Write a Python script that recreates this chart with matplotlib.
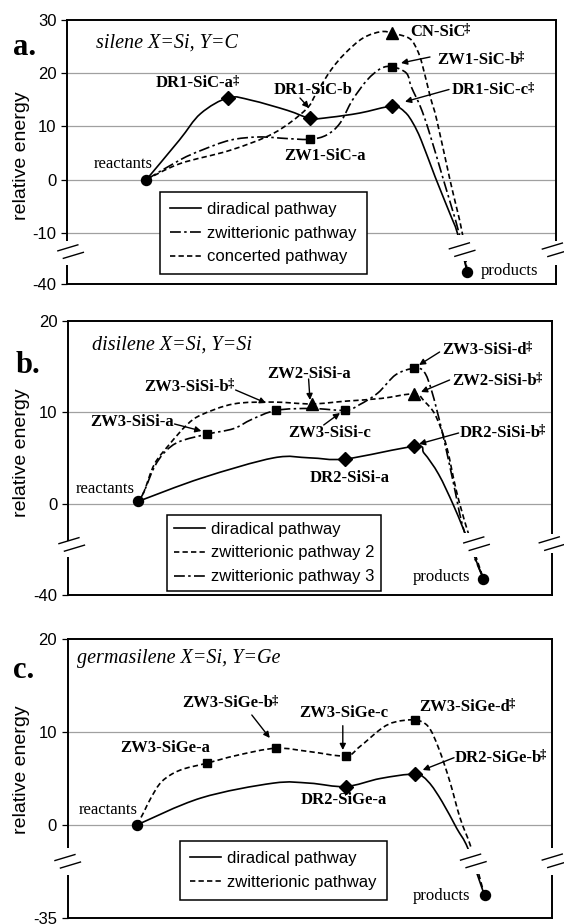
import numpy as np
import matplotlib.pyplot as plt
import matplotlib.transforms as mtransforms
from matplotlib.path import Path
from matplotlib.patches import PathPatch, Rectangle, FancyArrowPatch
from matplotlib.lines import Line2D
from matplotlib.ticker import NullLocator

plt.rcParams['axes.unicode_minus'] = False

SERIF = 'Liberation Serif'
SANS = 'Liberation Sans'

# ---------------- data (x = step along path, y = relative energy) ----------------
# a. silene X=Si, Y=C
a_dr_x = [0, 0.4, 0.66, 1, 1.28, 1.72, 2, 2.24, 2.6, 3, 3.15, 3.25, 3.35, 3.52, 3.70, 3.79, 3.91]
a_dr_y = [0, 7.4, 12.4, 15.4, 14.9, 13.0, 11.5, 11.7, 12.5, 13.8, 12.7, 10.6, 7.4, 0.5, -6.4, -10, -33]
a_zw_x = [0, 0.41, 0.67, 1.02, 1.37, 1.72, 2, 2.2, 2.36, 2.51, 2.69, 2.86, 3, 3.17, 3.23, 3.34, 3.44,
          3.63, 3.81, 3.91]
a_zw_y = [0, 3.7, 5.5, 7.4, 8.0, 7.7, 7.56, 8.4, 10.6, 14.9, 18.7, 20.9, 21.2, 20.0, 17.4, 13.7, 9.3,
          -0.5, -10, -33]
a_cn_x = [0, 0.41, 1.02, 1.55, 1.94, 2.07, 2.25, 2.42, 2.64, 2.86, 3.01, 3.21, 3.30, 3.36, 3.46, 3.54,
          3.70, 3.85, 3.91]
a_cn_y = [0, 3.0, 5.5, 8.7, 13.1, 16.2, 20.6, 23.7, 26.6, 27.8, 27.5, 26.5, 24.4, 21.8, 15.6, 11.2,
          0, -10, -33]
a_end_x, a_end_y = [0, 3.91], [0, -33]
a_diam_x, a_diam_y = [1, 2, 3], [15.4, 11.5, 13.8]
a_sq_x, a_sq_y = [2, 3], [7.56, 21.2]
a_tri_x, a_tri_y = [3], [27.5]

# b. disilene X=Si, Y=Si
b_dr_x = [0, 0.92, 1.96, 2.48, 3, 4, 4.14, 4.35, 4.56, 4.72, 5]
b_dr_y = [0.25, 2.8, 5.0, 5.0, 4.88, 6.25, 5.5, 3.2, -0.4, -12, -33]
b_zw2_x = [0, 0.08, 0.23, 0.44, 0.70, 0.91, 1.38, 1.95, 2.51, 3.0, 3.52, 4, 4.14, 4.30, 4.46, 4.61,
           4.77, 5]
b_zw2_y = [0.25, 1.3, 4.3, 6.4, 8.6, 9.7, 10.9, 11.1, 10.9, 11.2, 11.5, 12.0, 11.2, 9.7, 6.4, 1.3,
           -12, -33]
b_zw3_x = [0, 0.08, 0.23, 0.39, 0.6, 1, 1.38, 1.64, 2, 2.51, 3, 3.2, 3.47, 3.73, 4, 4.14, 4.25, 4.40,
           4.56, 4.72, 5]
b_zw3_y = [0.25, 1.3, 4.0, 5.7, 6.8, 7.6, 8.2, 9.2, 10.2, 10.4, 10.2, 10.8, 12.1, 14.1, 14.8, 14.4,
           12.3, 7.9, 2.4, -12, -33]
b_end_x, b_end_y = [0, 5], [0.25, -33]
b_diam_x, b_diam_y = [3, 4], [4.88, 6.25]
b_sq_x, b_sq_y = [1, 2, 3, 4], [7.6, 10.2, 10.2, 14.8]
b_tri_x, b_tri_y = [2.51, 4], [10.9, 12.0]

# c. germasilene X=Si, Y=Ge
c_dr_x = [0, 0.92, 1.96, 2.48, 3, 3.5, 4, 4.19, 4.39, 4.60, 4.76, 5]
c_dr_y = [0, 2.9, 4.5, 4.5, 4.13, 5.0, 5.46, 4.66, 2.5, -1.3, -8.8, -26.6]
c_zw_x = [0, 0.1, 0.2, 0.36, 0.62, 1, 1.44, 2, 2.48, 3, 3.2, 3.52, 3.72, 4, 4.19, 4.34, 4.5, 4.65,
          4.81, 5]
c_zw_y = [0, 1.4, 2.9, 4.7, 5.9, 6.64, 7.5, 8.26, 7.9, 7.43, 8.4, 10.4, 11.1, 11.3, 10.6, 8.26, 4.7,
          0.7, -8.8, -26.6]
c_end_x, c_end_y = [0, 5], [0, -26.6]
c_diam_x, c_diam_y = [3, 4], [4.13, 5.46]
c_sq_x, c_sq_y = [1, 2, 3, 4], [6.64, 8.26, 7.43, 11.3]

SOLID = '-'
DASH = (0, (3.2, 1.9))
DASHDOT = (0, (6.5, 2.0, 1.5, 2.0))

W, H = 564, 924
fig = plt.figure(figsize=(W / 100, H / 100), dpi=100)
PX = mtransforms.Affine2D().scale(1, -1).translate(0, H)  # pixel coords, origin top-left


def broken(cut, k):
    def fwd(y):
        y = np.asarray(y, float)
        return np.where(y >= cut, y, cut + (y - cut) / k)

    def inv(m):
        m = np.asarray(m, float)
        return np.where(m >= cut, m, cut + (m - cut) * k)
    return fwd, inv


def panel(box, xlim, ylim, cut, k, ticks, grid):
    l, r, t, b = box
    ax = fig.add_axes([l / W, 1 - b / H, (r - l) / W, (b - t) / H])
    fwd, inv = broken(cut, k)
    ax.set_yscale('function', functions=(fwd, inv))
    ax.set_xlim(*xlim)
    ax.set_ylim(*ylim)
    ax.set_xticks([])
    ax.set_yticks(ticks, labels=[str(v) for v in ticks])
    ax.yaxis.set_minor_locator(NullLocator())
    ax.tick_params(axis='y', direction='out', length=4, width=0.9, pad=3.5, labelsize=12)
    for lbl in ax.get_yticklabels():
        lbl.set_family(SANS)
    for s in ax.spines.values():
        s.set_linewidth(1.4)
    for g in grid:
        ax.axhline(g, color='#a0a0a0', lw=0.9, zorder=0.5)
    return ax, fwd, inv


def curve(ax, fwd, inv, xs, ys, ls):
    P = np.column_stack([np.asarray(xs, float), fwd(ys)])
    Pp = np.vstack([P[:1], P, P[-1:]])
    verts, codes = [P[0]], [Path.MOVETO]
    for i in range(len(P) - 1):
        c1 = P[i] + (Pp[i + 2] - Pp[i]) / 6
        c2 = P[i + 1] - (Pp[i + 3] - Pp[i + 1]) / 6
        verts += [c1, c2, P[i + 1]]
        codes += [Path.CURVE4] * 3
    V = np.array(verts)
    V[:, 1] = inv(V[:, 1])
    ax.add_patch(PathPatch(Path(V, codes), fill=False, edgecolor='k', lw=1.2,
                           linestyle=ls, capstyle='butt', zorder=2))


def marks(ax, xs, ys, m, ms):
    ax.plot(xs, ys, ls='none', marker=m, ms=ms, color='k', zorder=3)


def cover(x, y0, y1, w):
    fig.add_artist(Rectangle((x - w / 2, y0), w, y1 - y0, transform=PX,
                             facecolor='white', edgecolor='none', zorder=9))


def brk(cx, cy):
    for s in (-1, 1):
        x0, y0 = cx + s * 2.75, cy + s * 3.75
        fig.add_artist(Line2D([x0 - 10, x0 + 10], [y0 + 3, y0 - 3], transform=PX,
                              color='k', lw=1.0, zorder=10))


dagged = []


def lab(x, y, s, style='bold', ha='center', size=12, dag=False):
    kw = dict(family=SERIF, fontsize=size, ha=ha, va='center', transform=PX, zorder=12)
    if style == 'bold':
        kw['fontweight'] = 'bold'
    elif style == 'italic':
        kw['fontstyle'] = 'italic'
    if dag and ha == 'center':
        x -= 3
    t = fig.text(x, y, s, **kw)
    if dag:
        dagged.append(t)


def arrow(x0, y0, x1, y1):
    fig.add_artist(FancyArrowPatch((x0, y0), (x1, y1), transform=PX, arrowstyle='-|>',
                                   mutation_scale=9, lw=1.0, color='k',
                                   shrinkA=0, shrinkB=0, zorder=11))


def legend(ax, styles, labels, x, y, bp):
    hs = [Line2D([], [], color='k', lw=1.2, ls=s) for s in styles]
    leg = ax.legend(hs, labels, loc='upper left', bbox_to_anchor=(x, y), bbox_transform=PX,
                    borderaxespad=0, frameon=True, fancybox=False, framealpha=1,
                    edgecolor='k', prop={'family': SANS, 'size': 12}, handlelength=1.85,
                    handletextpad=0.37, labelspacing=0.53, borderpad=bp)
    leg.get_frame().set_linewidth(1.1)
    leg.set_zorder(5)


# ---------------- panel a ----------------
ax, fwd, inv = panel((67, 556, 20, 283.5), (-0.9695, 4.994), (-40, 30), -10, 3.14,
                     [30, 20, 10, 0, -10, -40], [20, 10, 0, -10])
curve(ax, fwd, inv, a_dr_x, a_dr_y, SOLID)
curve(ax, fwd, inv, a_zw_x, a_zw_y, DASHDOT)
curve(ax, fwd, inv, a_cn_x, a_cn_y, DASH)
marks(ax, a_diam_x, a_diam_y, 'D', 7.2)
marks(ax, a_sq_x, a_sq_y, 's', 5.6)
marks(ax, a_tri_x, a_tri_y, '^', 8.5)
marks(ax, a_end_x, a_end_y, 'o', 7.2)
legend(ax, [SOLID, DASHDOT, DASH],
       ['diradical pathway', 'zwitterionic pathway', 'concerted pathway'], 160, 191.7, 0.6)
cover(67, 240.7, 265, 6)
cover(556, 240.7, 265, 6)
cover(462, 234.5, 261, 36)
brk(70.6, 251.6)
brk(462.1, 249.6)
brk(555.1, 249.8)

# ---------------- panel b ----------------
ax, fwd, inv = panel((68, 552, 320.7, 595), (-1.0217, 5.993), (-40, 20), 0, 4,
                     [20, 10, 0, -40], [10, 0])
curve(ax, fwd, inv, b_dr_x, b_dr_y, SOLID)
curve(ax, fwd, inv, b_zw2_x, b_zw2_y, DASH)
curve(ax, fwd, inv, b_zw3_x, b_zw3_y, DASHDOT)
marks(ax, b_diam_x, b_diam_y, 'D', 7.2)
marks(ax, b_sq_x, b_sq_y, 's', 5.6)
marks(ax, b_tri_x, b_tri_y, '^', 8.5)
marks(ax, b_end_x, b_end_y, 'o', 7.2)
legend(ax, [SOLID, DASH, DASHDOT],
       ['diradical pathway', 'zwitterionic pathway 2', 'zwitterionic pathway 3'],
       167.3, 515, 0.4)
cover(68, 540.7, 556.7, 6)
cover(552, 534, 553, 6)
cover(476.5, 533, 557, 36)
brk(71.7, 544.4)
brk(476.5, 543.7)
brk(552, 543.6)

# ---------------- panel c ----------------
ax, fwd, inv = panel((67.5, 552, 639.3, 917.7), (-1.0, 5.971), (-35, 20), 0, 3.5,
                     [20, 10, 0, -35], [10, 0])
curve(ax, fwd, inv, c_dr_x, c_dr_y, SOLID)
curve(ax, fwd, inv, c_zw_x, c_zw_y, DASH)
marks(ax, c_diam_x, c_diam_y, 'D', 7.2)
marks(ax, c_sq_x, c_sq_y, 's', 5.6)
marks(ax, c_end_x, c_end_y, 'o', 7.2)
legend(ax, [SOLID, DASH], ['diradical pathway', 'zwitterionic pathway'], 180, 841, 0.6)
cover(67.5, 848, 875, 6)
cover(552, 848, 875, 6)
cover(473.3, 849, 874, 36)
brk(67.7, 861.3)
brk(473.3, 860.9)
brk(555, 860.8)

# ---------------- text ----------------
for cy in (156, 453, 770):
    fig.text(21.6, cy, 'relative energy', family=SANS, fontsize=14, rotation=90,
             ha='center', va='center', transform=PX)
for x, y, s in [(12.6, 55, 'a.'), (16, 373, 'b.'), (12.6, 678, 'c.')]:
    fig.text(x, y, s, family=SERIF, fontsize=22, fontweight='bold', ha='left',
             va='baseline', transform=PX)

lab(166.9, 43.3, 'silene X=Si, Y=C', 'italic', size=14.5)
lab(172.3, 345, 'disilene X=Si, Y=Si', 'italic', size=14.5)
lab(178.6, 658.3, 'germasilene X=Si, Y=Ge', 'italic', size=14.5)

for x, y, s in [(123.2, 164.3, 'reactants'), (105.3, 489.3, 'reactants'),
                (108.3, 810, 'reactants'), (441.2, 576.7, 'products'),
                (441.7, 895.7, 'products')]:
    lab(x, y, s, 'regular')
lab(481, 271, 'products', 'regular', ha='left')

lab(197.8, 83.3, 'DR1-SiC-a', dag=True)
lab(312.9, 90, 'DR1-SiC-b')
lab(325, 156, 'ZW1-SiC-a')
lab(410, 32, 'CN-SiC', ha='left', dag=True)
lab(481, 59.5, 'ZW1-SiC-b', dag=True)
lab(493.5, 90.5, 'DR1-SiC-c', dag=True)
arrow(300, 98, 309, 108)
arrow(430, 57, 401, 63)
arrow(449, 89.5, 405, 101.7)

lab(132, 422.3, 'ZW3-SiSi-a')
lab(189.8, 386.7, 'ZW3-SiSi-b', dag=True)
lab(309.4, 374.3, 'ZW2-SiSi-a')
lab(330, 433.3, 'ZW3-SiSi-c')
lab(487.8, 350, 'ZW3-SiSi-d', dag=True)
lab(497.8, 381, 'ZW2-SiSi-b', dag=True)
lab(503, 432.7, 'DR2-SiSi-b', dag=True)
lab(349.3, 477.7, 'DR2-SiSi-a')
arrow(174.5, 424, 201.4, 431)
arrow(235.6, 390, 266, 403)
arrow(308.6, 379, 310, 400)
arrow(323.7, 425, 340, 413)
arrow(439.6, 352, 419, 365)
arrow(449.6, 380, 421, 392)
arrow(458.6, 433, 419, 444)

lab(165, 748.3, 'ZW3-SiGe-a')
lab(230.3, 703.3, 'ZW3-SiGe-b', dag=True)
lab(343.9, 713.3, 'ZW3-SiGe-c')
lab(468, 706.7, 'ZW3-SiGe-d', dag=True)
lab(500.9, 757.7, 'DR2-SiGe-b', dag=True)
lab(343.6, 800, 'DR2-SiGe-a')
arrow(251.8, 715, 269.8, 738)
arrow(342.8, 725.7, 342.8, 750)
arrow(454, 757.7, 422.7, 770)

# small raised double daggers after transition-state names
renderer = fig.canvas.get_renderer()
for t in dagged:
    bb = t.get_window_extent(renderer)
    base = bb.y0 + 0.217 * 12 * 100 / 72
    fig.text(bb.x1 - 1.5, base + 4.5, '\u2021', family=SERIF, fontsize=9, fontweight='bold',
             ha='left', va='baseline', transform=mtransforms.IdentityTransform(), zorder=12)

fig.savefig('out.png', dpi=100, facecolor='white')
